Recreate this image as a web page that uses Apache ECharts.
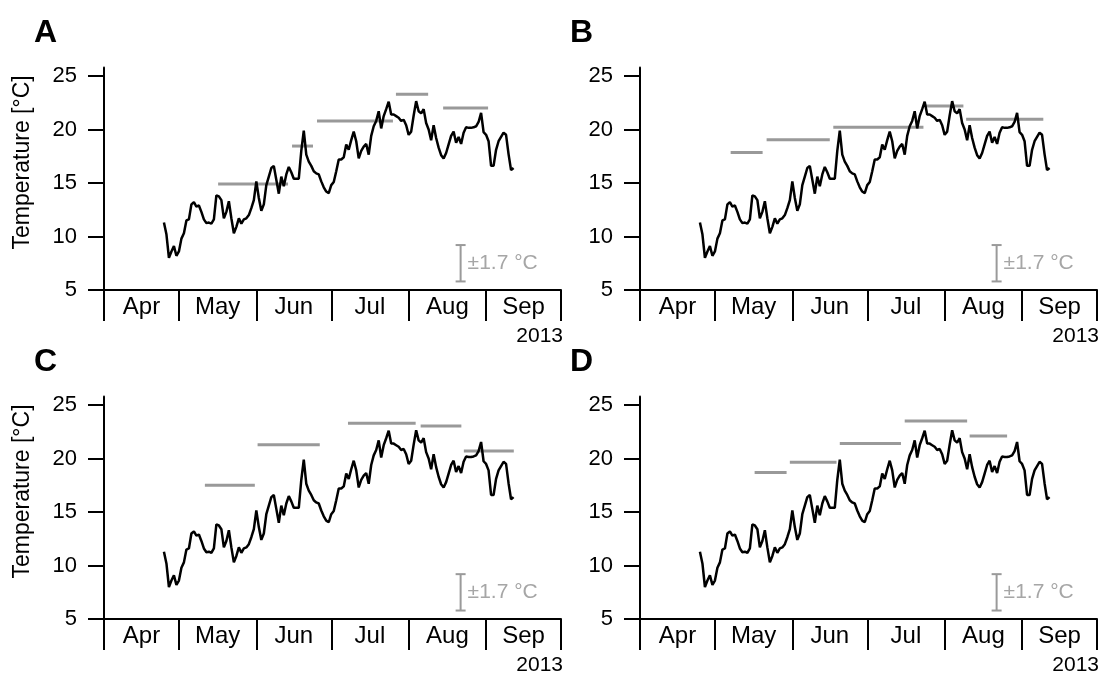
<!DOCTYPE html>
<html>
<head>
<meta charset="utf-8">
<script src="https://cdn.jsdelivr.net/npm/echarts@6/dist/echarts.min.js"></script>
<style>
  html, body { margin: 0; padding: 0; background: #fff; }
  #chart { width: 1098px; height: 684px; }
</style>
</head>
<body>
<div id="chart"></div>
<script>
// Time is counted in days from 1 April 2013 (day 0) to 1 October 2013 (day 183).
const monthNames = ['Apr', 'May', 'Jun', 'Jul', 'Aug', 'Sep'];
const monthStarts = [0, 30, 61, 91, 122, 153, 183];
const yTicks = [5, 10, 15, 20, 25];
const yearLabel = '2013';

// Daily mean water temperature (°C), one value per day starting on 25 April (day 24).
const firstDay = 24;
const dailyTemp = [
  11.3, 10.2, 8.0, 8.6, 9.1, 8.2, 8.6, 9.8, 10.3, 11.5,
  11.6, 13.0, 13.2, 12.8, 12.9, 12.3, 11.6, 11.25, 11.3, 11.2,
  11.6, 13.85, 13.75, 13.4, 11.7, 12.3, 13.3, 11.7, 10.3, 10.9,
  11.7, 11.2, 11.6, 11.7, 12.0, 12.65, 13.4, 15.15, 13.6, 12.4,
  13.0, 14.8, 15.6, 16.4, 16.6, 15.3, 14.0, 15.6, 14.7, 15.8,
  16.5, 16.0, 15.4, 15.4, 15.4, 18.0, 19.9, 17.65, 17.0, 16.6,
  16.1, 15.9, 15.8, 15.15, 14.6, 14.2, 14.05, 14.8, 15.1, 16.1,
  17.2, 17.2, 17.4, 18.6, 18.1, 19.0, 19.8, 18.9, 17.3, 18.0,
  18.4, 18.65, 17.65, 19.4, 20.3, 20.8, 21.7, 20.1, 21.25, 21.9,
  22.6, 21.4, 21.4, 21.25, 21.1, 20.8, 20.9, 20.4, 19.5, 19.8,
  21.3, 22.65, 21.7, 21.5, 21.9, 20.6, 20.0, 19.0, 20.4, 19.2,
  18.3, 17.6, 17.3, 17.8, 18.6, 19.4, 19.8, 18.75, 19.3, 18.65,
  19.7, 20.2, 20.15, 20.15, 20.2, 20.3, 20.7, 21.55, 19.75, 19.5,
  18.9, 16.6, 16.6, 18.1, 18.9, 19.3, 19.7, 19.5, 17.7, 16.2,
  16.4
];

// Period estimates for each panel: [start day, end day, °C]
const periodsA = [[45.7, 73.7, 14.9], [75.3, 83.7, 18.45], [85.3, 115.7, 20.8], [116.9, 129.8, 23.3], [135.8, 153.8, 22.0]];
const periodsB = [[36.3, 49.1, 17.85], [50.7, 76.0, 19.05], [77.4, 113.5, 20.2], [114.1, 129.5, 22.2], [130.6, 161.5, 20.95]];
const periodsC = [[40.4, 60.4, 17.5], [61.5, 86.4, 21.3], [97.7, 124.8, 23.3], [126.8, 143.1, 23.05], [144.1, 164.1, 20.7]];
const periodsD = [[45.9, 58.7, 18.7], [60.0, 78.7, 19.65], [80.0, 104.5, 21.4], [106.0, 131.0, 23.5], [132.0, 147.0, 22.1]];

// Uncertainty bar: [day, centre °C, half-width °C]
const errorBar = [142.8, 7.5, 1.7];

const FONT = "'Liberation Sans', Arial, Helvetica, sans-serif";
const monthMids = monthStarts.slice(0, -1).map((s, i) => (s + monthStarts[i + 1]) / 2);
const tempPoints = dailyTemp.map((t, i) => [firstDay + i, t]);

const panels = [
  { letter: 'A', periods: periodsA, left: 104, top: 67.4, yName: true },
  { letter: 'B', periods: periodsB, left: 640, top: 67.4, yName: false },
  { letter: 'C', periods: periodsC, left: 104, top: 396.5, yName: true },
  { letter: 'D', periods: periodsD, left: 640, top: 396.5, yName: false }
];
const GW = 457, GH = 222.6;

const chart = echarts.init(document.getElementById('chart'), null, { renderer: 'canvas' });

const grids = [], xAxes = [], yAxes = [], series = [], graphics = [];

panels.forEach((p, i) => {
  grids.push({ left: p.left, top: p.top, width: GW, height: GH, outerBoundsMode: 'none' });

  xAxes.push({
    gridIndex: i, type: 'value', min: 0, max: 183,
    axisLine: { show: true, onZero: false, lineStyle: { color: '#000', width: 2 } },
    axisTick: { show: true, customValues: monthStarts, length: 31, lineStyle: { color: '#000', width: 2 } },
    axisLabel: {
      customValues: monthMids,
      formatter: v => monthNames[monthMids.indexOf(v)] || '',
      color: '#000', fontSize: 24, fontFamily: FONT, margin: 5
    },
    splitLine: { show: false }
  });

  yAxes.push({
    gridIndex: i, type: 'value', min: 5, max: 25.8,
    axisLine: { show: true, onZero: false, lineStyle: { color: '#000', width: 2 } },
    axisTick: { show: true, customValues: yTicks, length: 16, lineStyle: { color: '#000', width: 2 } },
    axisLabel: { customValues: yTicks, color: '#000', fontSize: 22, fontFamily: FONT, margin: 27 },
    splitLine: { show: false }
  });

  // grey period estimates
  series.push({
    type: 'custom', xAxisIndex: i, yAxisIndex: i, z: 2,
    data: p.periods,
    renderItem: (params, api) => {
      const a = api.coord([api.value(0), api.value(2)]);
      const b = api.coord([api.value(1), api.value(2)]);
      return { type: 'line', shape: { x1: a[0], y1: a[1], x2: b[0], y2: b[1] },
               style: { stroke: '#999', lineWidth: 3 } };
    }
  });

  // daily temperature
  series.push({
    type: 'line', xAxisIndex: i, yAxisIndex: i, z: 3,
    data: tempPoints, showSymbol: false, silent: true,
    lineStyle: { color: '#000', width: 2.5 }
  });

  // uncertainty bar with its label
  series.push({
    type: 'custom', xAxisIndex: i, yAxisIndex: i, z: 2,
    data: [errorBar],
    renderItem: (params, api) => {
      const x = api.value(0), c = api.value(1), h = api.value(2);
      const t = api.coord([x, c + h]), b = api.coord([x, c - h]);
      const st = { stroke: '#9a9a9a', lineWidth: 2 };
      return { type: 'group', children: [
        { type: 'line', shape: { x1: t[0], y1: t[1], x2: b[0], y2: b[1] }, style: st },
        { type: 'line', shape: { x1: t[0] - 5, y1: t[1], x2: t[0] + 5, y2: t[1] }, style: st },
        { type: 'line', shape: { x1: b[0] - 5, y1: b[1], x2: b[0] + 5, y2: b[1] }, style: st },
        { type: 'text', x: t[0] + 7, y: (t[1] + b[1]) / 2,
          style: { text: '±' + h + ' °C', fill: '#a6a6a6', fontSize: 21, fontFamily: FONT,
                   align: 'left', verticalAlign: 'middle' } }
      ] };
    }
  });

  graphics.push({
    type: 'text', x: p.left - 70, y: p.top - 34,
    style: { text: p.letter, fill: '#000', fontSize: 32, fontWeight: 'bold', fontFamily: FONT,
             align: 'left', verticalAlign: 'middle' }
  });
  graphics.push({
    type: 'text', x: p.left + GW + 2, y: p.top + GH + 46,
    style: { text: yearLabel, fill: '#000', fontSize: 21, fontFamily: FONT, align: 'right', verticalAlign: 'middle' }
  });
  if (p.yName) {
    graphics.push({
      type: 'text', x: 23, y: p.top + 95, rotation: Math.PI / 2,
      style: { text: 'Temperature [°C]', fill: '#000', fontSize: 23, fontFamily: FONT,
               align: 'center', verticalAlign: 'middle' }
    });
  }
});

chart.setOption({
  animation: false,
  backgroundColor: '#fff',
  grid: grids, xAxis: xAxes, yAxis: yAxes, series: series, graphic: graphics
});
</script>
</body>
</html>
